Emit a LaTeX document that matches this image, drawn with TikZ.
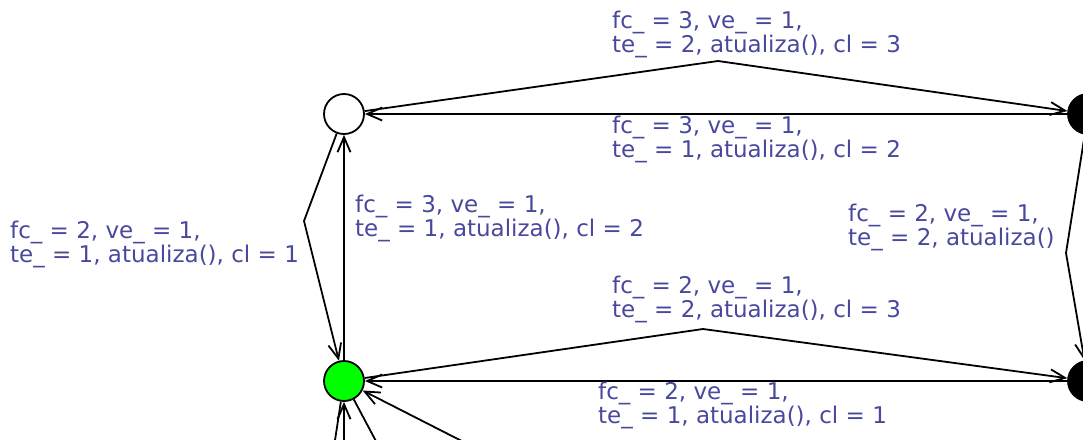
\documentclass[tikz,border=0pt]{standalone}
\usepackage{fontspec}
\setmainfont{DejaVu Sans}
\usetikzlibrary{arrows.meta}
\definecolor{updblue}{RGB}{72,72,158}

\begin{document}
\begin{tikzpicture}[x=1pt,y=-1pt,
  loc/.style={circle,draw,line width=1.8pt,minimum size=40pt,inner sep=0pt},
  edge/.style={line width=1.8pt,-{Straight Barb[length=15pt,width=13pt]}},
  plain/.style={line width=1.8pt},
  upd/.style={anchor=base west,align=left,inner sep=0pt,text=updblue,
    font=\fontsize{23}{20}\selectfont}]
\useasboundingbox (0,0) rectangle (1083,439);
\clip (0,0) rectangle (1083,439);
% locations
\node[loc] (init) at (344,114) {};
\node[loc,fill=green] (ok) at (344,381) {};
\node[loc,fill=black] (hiT) at (1088,114) {};
\node[loc,fill=black] (hiB) at (1088,381) {};
% bend points
\coordinate (bendTop) at (718,61);
\coordinate (bendLeft) at (304,221);
\coordinate (bendRight) at (1066,253);
\coordinate (bendBot) at (703,329);
% ends below the frame
\coordinate (offA) at (332,460);
\coordinate (offB) at (344,460);
\coordinate (offC) at (386,460);
\coordinate (offD) at (499,460);
% transitions
\draw[edge] (hiT) -- (init);
\draw[edge] (init) -- (bendTop) -- (hiT);
\draw[edge] (ok) -- (init);
\draw[edge] (init) -- (bendLeft) -- (ok);
\draw[edge] (hiT) -- (bendRight) -- (hiB);
\draw[edge] (hiB) -- (ok);
\draw[edge] (ok) -- (bendBot) -- (hiB);
\draw[plain] (ok) -- (offA);
\draw[edge] (offB) -- (ok);
\draw[plain] (ok) -- (offC);
\draw[edge] (offD) -- (ok);
% updates (anchored at the second line)
\node[upd] (updTop) at (612,52) {fc\_ = 3, ve\_ = 1,\\te\_ = 2, atualiza(), cl = 3};
\node[upd] (updTopB) at (612,157) {fc\_ = 3, ve\_ = 1,\\te\_ = 1, atualiza(), cl = 2};
\node[upd] (updLeft) at (10,262) {fc\_ = 2, ve\_ = 1,\\te\_ = 1, atualiza(), cl = 1};
\node[upd] (updMid) at (355,236) {fc\_ = 3, ve\_ = 1,\\te\_ = 1, atualiza(), cl = 2};
\node[upd] (updRight) at (848,245) {fc\_ = 2, ve\_ = 1,\\te\_ = 2, atualiza()};
\node[upd] (updBot) at (612,317) {fc\_ = 2, ve\_ = 1,\\te\_ = 2, atualiza(), cl = 3};
\node[upd] (updBotB) at (598,423) {fc\_ = 2, ve\_ = 1,\\te\_ = 1, atualiza(), cl = 1};
\end{tikzpicture}
\end{document}
